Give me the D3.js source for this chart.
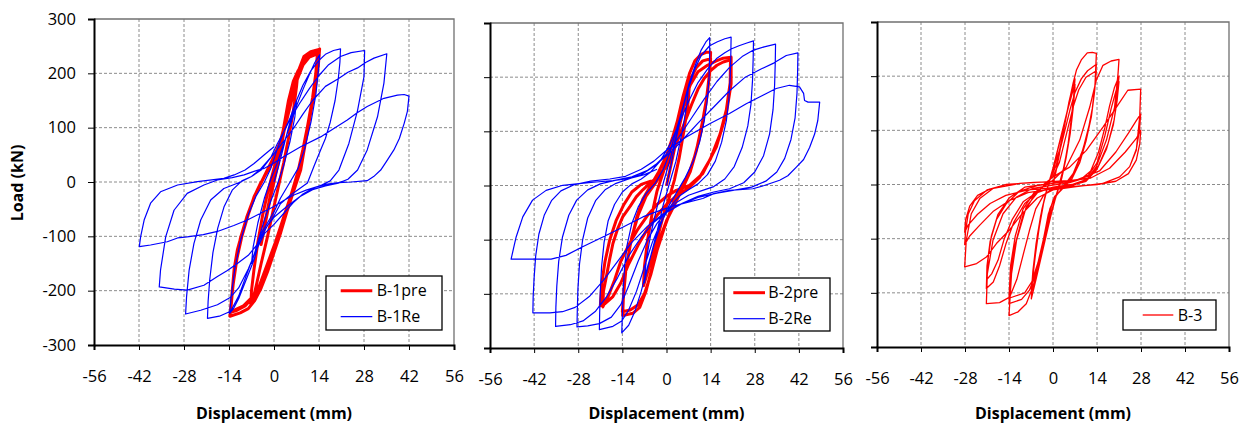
<!DOCTYPE html>
<html>
<head>
<meta charset="UTF-8">
<title>Load-displacement hysteresis</title>
<script src="https://d3js.org/d3.v7.min.js"></script>
<style>
  body { margin: 0; background: #fff; }
  svg { display: block; }
  text { font-family: "Open Sans", "Noto Sans", sans-serif; fill: #000; }
</style>
</head>
<body>
<svg id="chart" width="1247" height="426"></svg>
<script>
// tick values
var xTicks = [-56, -42, -28, -14, 0, 14, 28, 42, 56];
var yTicks = [-300, -200, -100, 0, 100, 200, 300];

// B-1pre (red, thick) -- displacement (mm), load (kN)
var b1pre = [
  [0,0],[1,30],[2,60],[3,95],[4,120],[3,90],[1.5,40],[0,0],[-1.5,-40],[-3,-85],[-4,-115],
  [-3,-80],[-1.5,-35],[0,10],[1.5,50],[3,100],[4.5,150],[6,185],[7.5,205],
  [7,175],[6,130],[4.5,80],[3,35],[1.5,-5],[0,-45],[-2,-100],[-4,-150],[-5.5,-190],[-6.5,-215],[-7.2,-226],
  [-7,-200],[-6.2,-160],[-5,-110],[-3.5,-60],[-2,-20],[0,25],
  [1.5,60],[3.1,96],[4.5,130],[5.7,157],[7.3,200],[9.3,231],[11.4,240],[14,244],[14.2,245],
  [13.8,215],[13,180],[11.4,126],[9.9,77],[8.3,22],[6.2,-15],[4,-55],[2,-95],[0,-130],[-2,-165],[-4,-195],[-6,-218],[-8,-233],[-10.5,-241],[-13.7,-247],
  [-13.2,-215],[-12.4,-160],[-11.4,-125],[-10,-95],[-8,-60],[-6.2,-27],[-3.1,10],[0,47],
  [2,75],[3.5,110],[5,145],[6.5,180],[8.5,215],[10.5,232],[13,238],[14,240],
  [13.5,200],[12.5,160],[11,115],[9.5,70],[8,30],[6,-10],[3.5,-60],[1,-105],[-1.5,-145],[-4,-185],[-6.5,-212],[-9,-228],[-11.5,-236],[-13.5,-240],
  [-13,-205],[-12,-150],[-10.5,-105],[-8.5,-65],[-6,-25],[-3,10],[0,40],
  [2.5,80],[4,115],[5.5,150],[7,185],[9,215],[11,230],[13.5,236],
  [13,200],[12,155],[10.5,105],[9,60],[7.5,20],[5.5,-20],[3,-65],[0.5,-110],[-2,-150],[-4.5,-190],[-7,-213],[-9.5,-228],[-12,-235],[-13.5,-237],
  [-13,-200],[-11.5,-140],[-10,-100],[-8,-60],[-6,-25],[-4,0]
];

// B-1Re (blue)
var b1re = [
  [0,0],[1.5,30],[3,65],[4.5,100],[6,130],[7,150],
  [6.5,120],[5,75],[3,30],[1,-5],[-1,-35],[-3,-70],[-5,-110],[-6.5,-140],[-7,-150],
  [-6.5,-120],[-5,-75],[-3,-30],[-1,5],[1,35],[3,70],[5,105],[7,140],[9,170],[11,198],[12.7,220],[14.2,234],
  [13.8,205],[13,160],[11.5,110],[9.5,60],[7.5,25],[5,0],[2,-30],[0,-55],[-2,-75],[-4,-95],[-6,-140],[-9,-185],[-11,-215],[-12.5,-232],[-13.8,-242],
  [-13.3,-210],[-12.2,-160],[-10.5,-110],[-8,-60],[-5.5,-25],[-3,0],[-1,25],[1,60],[3,92],
  [5,118],[7,150],[9,178],[11.5,205],[14,224],[16,235],[18.5,242],[20.7,245],
  [20.5,220],[20,190],[19,150],[17.5,110],[16,80],[14.5,59],[12.5,30],[10.4,-2],[8,-12],[5,-25],[2,-40],[0,-62],[-2,-80],[-4,-100],[-6,-130],[-8.5,-170],[-11,-210],[-13.5,-238],[-17,-247],[-20.7,-251],
  [-20.5,-220],[-20,-180],[-19,-130],[-17.5,-85],[-15.5,-45],[-13,-15],[-10,2],[-7,10],[-4,22],[-1,45],[1,70],[3,92],[5,115],[8,145],[11,172],[14,196],[17,216],[20.7,231],[24,238],[28.2,242],
  [28,194],[26,132],[23.3,71],[20.2,22],[17.5,2],[15,-5],[12,-12],[9,-22],[6,-38],[3,-58],[0,-78],[-3,-95],[-5.5,-125],[-8,-160],[-11,-195],[-13.5,-212],[-17.6,-226],[-22.8,-236],[-27.5,-243],
  [-27.2,-211],[-26.4,-162],[-24.9,-113],[-22.8,-70],[-19.7,-33],[-15.6,-12],[-10.4,0],[-7,10],[-4,25],[0,52],[3,75],[6,98],[9,125],[12,150],[16,176],[20,190],[23,202],[26,210],[28.5,220],[31.1,228],[35.1,236],
  [34.2,182],[32.2,120],[29,59],[26,22],[23,5],[20,-2],[16,-7],[12,-14],[8,-27],[4,-45],[0,-65],[-2,-80],[-5.2,-115],[-8,-135],[-11.4,-150],[-14.5,-163],[-17.6,-174],[-21.8,-190],[-27,-199],[-31,-197],[-35.7,-193],
  [-35.3,-162],[-33.7,-101],[-31.1,-52],[-27,-21],[-21.8,-5.5],[-17.6,3.7],[-13,8],[-9.3,13],[-6,20],[-3.1,25],[0,35],[3.1,47],[8.3,65],[14.5,83],[18.5,98],[22.8,114],[26,128],[29,139],[34.2,154],[38.4,160],[40.5,161],[42,158],
  [41.5,130],[40.5,108],[39,80],[37.3,59],[35,38],[33.2,22],[31,10],[29,2.5],[24,0],[20.2,-1.2],[16.5,-4],[13.5,-8.6],[10,-15],[6.2,-24],[3,-34],[0,-45],[-4,-57],[-8.3,-70],[-12.5,-80],[-17.6,-91],[-22,-97],[-27,-101],[-30,-103],[-33.2,-110],[-38.4,-116],[-41.9,-119],
  [-41.5,-101],[-40.4,-70],[-38.4,-39],[-35.3,-18],[-30,-5.5],[-23.8,0.6],[-15.6,6.8],[-12.4,13],[-9,22],[-6.2,34],[-3,50],[0,65]
];

// B-2pre (red, thick)
var b2pre = [
  [0,0],[1.5,40],[3,80],[4.5,120],[6,155],[7.2,180],
  [6.8,150],[5.5,100],[4,50],[2.5,10],[1,-20],[-1,-55],[-3,-100],[-5,-140],[-6.5,-170],[-7.3,-185],
  [-7,-150],[-6,-100],[-4.5,-50],[-3,-10],[-1,25],[1,60],[3,108],[5.2,163],[7.3,207],[9,230],[11,242],[12.6,246],[14,246],
  [13.8,215],[13,170],[11.5,120],[9.5,65],[7.5,25],[5.5,0],[3,-30],[0,-65],[-2.5,-105],[-4.5,-150],[-6.5,-195],[-8.5,-225],[-10.7,-236],[-13.9,-240],
  [-13.7,-210],[-13,-160],[-11.5,-110],[-9.5,-60],[-7.5,-25],[-5,0],[-2.5,25],[0,55],[2,90],[3.5,120],[5.5,160],[7.5,195],[9.5,218],[11.5,230],[14,234],
  [13.5,200],[12.5,150],[11,100],[9,55],[7,20],[4.5,-5],[2,-35],[-0.5,-75],[-3,-120],[-5,-165],[-7,-200],[-9,-220],[-11.5,-230],[-14,-233],
  [-13.6,-200],[-12.8,-150],[-11,-95],[-9,-55],[-6.5,-20],[-3.3,6],[-1,30],[1.5,70],[3.5,110],[5.5,150],[7.5,185],[10,210],[13,222],[15.8,230],[18,235],[20.5,237],
  [20.5,188],[19,133],[15.8,71],[11.5,22],[7.3,0.4],[3.1,-9],[0,-20],[-3,-35],[-6,-55],[-9,-80],[-12,-110],[-14.5,-140],[-16.5,-175],[-18.5,-205],[-20.2,-224],
  [-20,-195],[-19.1,-169],[-18,-135],[-17,-107],[-15.5,-80],[-13.9,-58],[-11.5,-38],[-9.6,-21],[-7.5,-8],[-5.4,3.5],[-2,20],[0,35],[2,60],[4,90],[6,120],[8,150],[10,178],[12,198],[14,212],[16,222],[18,228],[20.3,232],
  [20.2,190],[19,140],[17,95],[14,50],[10.5,15],[7,-5],[3,-20],[0,-35],[-3,-55],[-6,-80],[-9,-110],[-12,-145],[-14.5,-180],[-17,-205],[-19.5,-218],[-21,-222],
  [-20.5,-180],[-19.5,-140],[-18,-100],[-16,-65],[-13.5,-35],[-11,-12],[-8,2],[-5,8],[-3,8]
];

// B-2Re (blue)
var b2re = [
  [0,0],[1.5,40],[3,85],[4.5,125],[6,160],[7,185],
  [6.5,150],[5,100],[3,45],[1,5],[-1,-35],[-3,-85],[-5,-130],[-6.5,-165],[-7,-180],
  [-6.5,-140],[-5,-90],[-3,-40],[-1,5],[1,45],[3,90],[5,140],[7,185],[9,220],[11,250],[12.5,265],[13.7,273],
  [13.7,240],[13.5,200],[13,160],[12,120],[10.5,80],[8.5,45],[6,15],[3,-15],[0,-45],[-2,-75],[-4,-110],[-6,-150],[-8,-195],[-10,-232],[-12,-258],[-14.2,-272],
  [-14,-240],[-13.8,-200],[-13.3,-150],[-12.5,-110],[-11,-70],[-9,-40],[-6.5,-15],[-3.5,5],[-1,30],[1,60],[3,100],[5,140],[7,180],[9,215],[11,240],[13.7,258],[16,265],[18.5,271],[20.5,274],
  [20.4,240],[20.2,200],[19.8,160],[19,120],[17.5,80],[15.5,45],[13,20],[10,3],[7,-8],[4,-20],[1,-40],[-2,-70],[-4.5,-105],[-7,-150],[-9.5,-195],[-12,-230],[-14.2,-250],[-17,-260],[-21.3,-266],
  [-21.2,-235],[-21,-195],[-20.6,-150],[-19.8,-105],[-18.5,-65],[-16.5,-35],[-14,-12],[-11,3],[-8,12],[-5,25],[-2,45],[1,75],[4,115],[7,155],[10,190],[13,215],[16,235],[18.5,245],[20.5,252],[23,258],[25.5,263],[27.6,267],
  [27.5,235],[27.3,195],[26.8,150],[25.8,110],[24,70],[21.5,35],[18.5,12],[15,-2],[11,-10],[7,-18],[3,-32],[0,-48],[-3,-70],[-6,-100],[-9,-140],[-12,-185],[-14.5,-220],[-17.5,-243],[-21.3,-255],[-25,-259],[-28.4,-261],
  [-28.3,-230],[-28.1,-190],[-27.6,-145],[-26.6,-100],[-25,-60],[-22.5,-28],[-19.5,-8],[-16,4],[-12,12],[-8,20],[-4,35],[0,58],[4,90],[8,125],[12,160],[16,192],[20,218],[24,238],[27.6,250],[31,256],[34.6,261],
  [34.5,225],[34.3,185],[33.8,140],[32.7,95],[30.8,55],[28,25],[24.5,5],[20,-6],[15,-12],[10,-20],[5,-33],[0,-50],[-4,-68],[-8,-95],[-12,-130],[-15.5,-170],[-19,-205],[-22.5,-232],[-26.5,-250],[-30.5,-257],[-35.2,-260],
  [-35.1,-225],[-34.8,-185],[-34.2,-140],[-33,-95],[-31,-55],[-28.5,-27],[-25,-8],[-21,3],[-16,10],[-11,16],[-6,28],[-2,45],[2,65],[6,90],[10,115],[15,145],[20,175],[25,200],[30,215],[34,226],[38,240],[41.7,245],
  [41.6,210],[41.4,170],[40.8,125],[39.5,85],[37.5,50],[35,25],[31.5,8],[27,-3],[22,-8],[16,-14],[10,-22],[4,-36],[-1,-52],[-6,-75],[-11,-105],[-15.5,-140],[-20,-175],[-24.5,-205],[-29,-225],[-33,-233],[-37,-235],[-42.4,-235],
  [-42.3,-205],[-42,-170],[-41.5,-130],[-40.5,-90],[-38.8,-55],[-36.5,-28],[-33.5,-10],[-29.5,1],[-24,8],[-18,12],[-13,17],[-8,30],[-4,45],[0,65],[6.3,89.5],[13.7,114],[20,133],[25.3,151],[30.6,166.5],[34.8,179],[39,185],[42.2,182],[43.5,170],[43.8,157],[44.9,154],[48.6,154],
  [48,120],[47,95],[45.4,70],[43.5,48],[41.2,34],[38.5,18],[35.9,9.6],[31,0],[27.4,-6],[20,-9],[15,-15],[11.5,-24],[6,-32],[1,-40],[-4,-50],[-7.5,-58],[-13.9,-77],[-20.2,-95],[-26.6,-113],[-31.9,-129],[-36.6,-136],[-42,-136],[-49.3,-136],
  [-48.5,-115],[-47.7,-95],[-45.6,-58],[-42.5,-27],[-38.2,-9],[-32.9,0.4],[-27,4],[-22.3,6.5],[-17,9],[-11.7,13],[-7,20],[-3,30]
];

// B-3 (red, thin)
var b3 = [
  [0,0],[1,25],[2,55],[3,90],[4,120],[5,150],[6,175],[7,195],
  [6.6,165],[5.8,120],[4.8,75],[3.6,35],[2.2,5],[0.8,-25],[-0.8,-60],[-2.4,-100],[-4,-140],[-5.4,-175],[-6.9,-211],
  [-6.5,-175],[-5.6,-130],[-4.4,-80],[-3,-35],[-1.5,0],[0,30],[1.5,65],[3,100],[4.5,135],[5.8,165],[7,185],
  [6.6,155],[5.6,105],[4.4,60],[3,20],[1.5,-10],[0,-40],[-1.8,-80],[-3.5,-125],[-5.2,-165],[-6.9,-200],
  [-6.4,-160],[-5.4,-110],[-4,-60],[-2.5,-20],[-1,10],[0.5,40],[2,75],[3.5,110],[5,145],[6.2,170],[7,180],
  [6.5,145],[5.5,95],[4.2,50],[2.8,12],[1.2,-18],[-0.5,-50],[-2.3,-95],[-4,-140],[-5.6,-175],[-6.9,-195],
  [-6.2,-150],[-5,-95],[-3.5,-45],[-2,-10],[-1,8],[0,25],[1,45],[2.1,64],[3.2,95],[4.2,125],[5.3,157],[6.4,187],[7.5,212],[9,230],[10.9,243],[12.5,244],[13.8,242],
  [13.3,175],[12.5,140],[11.7,114],[9.5,64],[6.4,20],[3.2,-4.4],[0,-29],[-2.1,-78],[-4.2,-140],[-6.4,-189],[-8.5,-220],[-11.1,-235],[-14,-242],
  [-13.2,-165],[-11.6,-103],[-8.5,-41],[-4.2,-10],[-1,8],[1,35],[2.5,70],[4,105],[5.5,140],[7,170],[9,195],[11,210],[13.8,222],
  [13.3,180],[12.5,140],[11,95],[9,55],[6.5,18],[3.5,-5],[1,-20],[-1,-45],[-2.5,-85],[-4,-130],[-5.8,-170],[-7.5,-195],[-10,-212],[-14,-220],
  [-13.4,-160],[-12,-110],[-9.5,-55],[-6,-20],[-2.5,0],[0,15],[2,40],[3.5,75],[5,110],[6.5,145],[8.2,175],[10.5,198],[13.8,210],
  [13.2,170],[12.2,125],[10.5,80],[8.5,40],[6,10],[3,-8],[0.5,-22],[-1.5,-55],[-3,-100],[-4.8,-145],[-6.8,-180],[-9,-200],[-14,-210],
  [-13.5,-150],[-12,-95],[-9.5,-45],[-6,-15],[-2,0],[0,8],[4.2,32],[8.5,82],[11.7,143],[13.8,193],[15.9,220],[18.5,228],[21,231],
  [20.7,205],[19.6,143],[17,82],[13.8,33],[10.6,8],[5.3,-4],[0,-7],[-3,-20],[-5.5,-45],[-7.5,-85],[-9.5,-130],[-11.5,-175],[-13.8,-208],[-17,-218],[-21.2,-220],
  [-20.9,-165],[-19.1,-103],[-15.9,-54],[-11.6,-23],[-6.4,-7],[0,-1],[5,3],[9,10],[12,25],[14.5,60],[16.5,105],[18,145],[19.5,178],[21,200],
  [20.5,170],[19.5,120],[17.5,75],[14.5,35],[11,10],[6,0],[0,-5],[-5,-15],[-9,-35],[-12.5,-70],[-15,-110],[-17,-150],[-19,-180],[-21.2,-192],
  [-21,-150],[-20,-105],[-18,-65],[-14.8,-35],[-10.6,-12],[-5,-2],[0,2],[6,6],[11,15],[14,40],[16.5,90],[18.5,140],[20,172],[21,190],
  [20.4,155],[19.2,110],[17,65],[14,28],[10.5,6],[5,-3],[0,-6],[-5,-14],[-9.5,-32],[-13,-65],[-15.5,-100],[-17.5,-140],[-19.5,-165],[-21,-175],
  [-20.6,-135],[-19.6,-95],[-17.5,-55],[-14,-25],[-9,-5],[-3,0],[0,14],[5.3,32],[10.6,63],[15.9,106],[20.2,143],[23.8,174],[27.9,176],
  [27.6,126],[26.5,63],[24.4,33],[21.2,14],[15.9,2],[7.4,-4],[0,-10],[-5,-25],[-10,-55],[-14,-85],[-18,-109],[-21.2,-134],[-24.3,-146],[-28.1,-152],
  [-27.6,-103],[-26,-54],[-23.3,-26],[-19,-7],[-10.6,2],[-2.1,5],[7.4,8],[14.8,25],[20,60],[24,95],[26.5,118],[27.9,130],
  [27.5,100],[26.5,65],[24.4,33],[21.2,14],[15.9,2],[7.4,-4],[0,-8],[-8,-15],[-14,-30],[-19.1,-50],[-23.3,-75],[-26.5,-95],[-28.1,-111],
  [-27.8,-85],[-27,-55],[-25,-30],[-21,-10],[-15,0],[-6,4],[4,6],[12,12],[18,30],[23,60],[26.5,85],[27.9,100],
  [27.6,75],[26.5,45],[24,20],[20,6],[14,0],[6,-4],[0,-6],[-8,-10],[-15,-20],[-20,-35],[-24,-55],[-27,-75],[-28.1,-88],
  [-27.8,-65],[-26.5,-40],[-24,-20],[-20,-8]
];

var RED = "#ff0000", BLUE = "#0000ff";

var panels = [
  {left: 94, right: 454, top: 19, bottom: 345, yLabels: true,
   series: [{name: "B-1pre", data: b1pre, color: RED, width: 3},
            {name: "B-1Re", data: b1re, color: BLUE, width: 1.2}],
   legend: {x: 326, y: 276, w: 116, h: 54, l0: 14.7, l1: 46.3, tx: 50.7}},
  {left: 490, right: 843, top: 23, bottom: 348, yLabels: false,
   series: [{name: "B-2pre", data: b2pre, color: RED, width: 3},
            {name: "B-2Re", data: b2re, color: BLUE, width: 1.2}],
   legend: {x: 724, y: 278, w: 106, h: 53, l0: 9.3, l1: 41, tx: 44.3}},
  {left: 877, right: 1229, top: 22, bottom: 347, yLabels: false,
   series: [{name: "B-3", data: b3, color: RED, width: 1.3}],
   legend: {x: 1123, y: 300, w: 93, h: 30, l0: 19.7, l1: 50.3, tx: 54.7}}
];

var svg = d3.select("#chart");

panels.forEach(function (p) {
  var x = d3.scaleLinear().domain([-56, 56]).range([p.left, p.right]);
  var y = d3.scaleLinear().domain([-300, 300]).range([p.bottom, p.top]);
  var g = svg.append("g");

  // grid
  g.selectAll("line.vgrid").data(xTicks.slice(1, -1)).enter().append("line")
      .attr("x1", function (d) { return x(d); }).attr("x2", function (d) { return x(d); })
      .attr("y1", p.top).attr("y2", p.bottom)
      .attr("stroke", "#8c8c8c").attr("stroke-width", 1).attr("stroke-dasharray", "3,2");
  g.selectAll("line.hgrid").data(yTicks.slice(1, -1)).enter().append("line")
      .attr("y1", function (d) { return y(d); }).attr("y2", function (d) { return y(d); })
      .attr("x1", p.left).attr("x2", p.right)
      .attr("stroke", "#8c8c8c").attr("stroke-width", 1).attr("stroke-dasharray", "3,2");

  // top / right border
  g.append("path")
      .attr("d", "M" + p.left + "," + p.top + "H" + p.right + "V" + p.bottom)
      .attr("fill", "none").attr("stroke", "#707070").attr("stroke-width", 1.3);

  // series
  var line = d3.line().x(function (d) { return x(d[0]); }).y(function (d) { return y(d[1]); });
  p.series.forEach(function (s) {
    g.append("path").datum(s.data)
        .attr("d", line)
        .attr("fill", "none").attr("stroke", s.color)
        .attr("stroke-width", s.width).attr("stroke-linejoin", "round");
  });

  // axes (plain hyphen for negatives, as in the original)
  var fmt = function (d) { return String(d); };
  var xAxis = d3.axisBottom(x).tickValues(xTicks).tickSize(5).tickPadding(20).tickFormat(fmt);
  var gx = g.append("g").attr("transform", "translate(0," + p.bottom + ")").call(xAxis);
  gx.select(".domain").attr("stroke-width", 2);
  gx.selectAll("text").style("font-size", "16.5px").attr("font-family", null);

  var yAxis = d3.axisLeft(y).tickValues(yTicks).tickSize(6).tickPadding(12).tickFormat(fmt);
  var gy = g.append("g").attr("transform", "translate(" + p.left + ",0)").call(yAxis);
  gy.select(".domain").attr("stroke-width", 2);
  if (p.yLabels) {
    gy.selectAll("text").style("font-size", "16.5px").attr("font-family", null);
  } else {
    gy.selectAll("text").remove();
  }
  g.selectAll(".tick line").attr("stroke", "#000");

  // axis title
  g.append("text")
      .attr("x", x(0)).attr("y", 413.5).attr("dy", "0.35em")
      .attr("text-anchor", "middle")
      .style("font-size", "16px").style("font-weight", "bold")
      .text("Displacement (mm)");

  // legend
  var L = p.legend;
  var lg = g.append("g").attr("transform", "translate(" + L.x + "," + L.y + ")");
  lg.append("rect").attr("width", L.w).attr("height", L.h)
      .attr("fill", "#fff").attr("stroke", "#000").attr("stroke-width", 1.3);
  var rowH = p.series.length > 1 ? 26 : 0;
  p.series.forEach(function (s, i) {
    var cy = (p.series.length > 1 ? 14.7 : L.h / 2) + i * rowH;
    lg.append("line").attr("x1", L.l0).attr("x2", L.l1).attr("y1", cy).attr("y2", cy)
        .attr("stroke", s.color).attr("stroke-width", s.width);
    lg.append("text").attr("x", L.tx).attr("y", cy).attr("dy", "0.35em")
        .style("font-size", "16px").text(s.name);
  });
});

svg.append("text")
    .attr("transform", "translate(17,183) rotate(-90)")
    .attr("text-anchor", "middle").attr("dy", "0.35em")
    .style("font-size", "16px").style("font-weight", "bold")
    .text("Load (kN)");
</script>
</body>
</html>
